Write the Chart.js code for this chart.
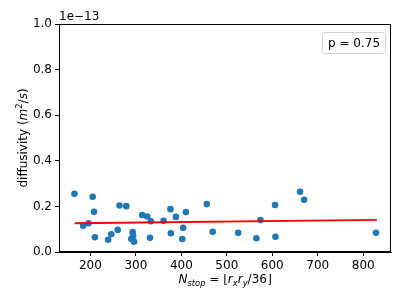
<!DOCTYPE html>
<html>
<head>
<meta charset="utf-8">
<script src="https://cdn.jsdelivr.net/npm/chart.js@4"></script>
<style>
  html, body { margin: 0; padding: 0; background: #fff; }
  #wrap { width: 407px; height: 304px; }
</style>
</head>
<body>
<div id="wrap"><canvas id="chart" width="407" height="304"></canvas></div>
<script>
// values, diffusivity in units of 1e-13 m^2/s
const nStop = [165, 184, 196, 205, 208, 210, 239, 246, 260, 264, 279, 290, 293, 294, 296, 314, 325, 333,
  331, 361, 376, 377, 388, 404, 402, 410, 456, 469, 525, 565, 574, 606, 607, 661, 670, 828];
const diffusivity = [0.255, 0.115, 0.126, 0.242, 0.176, 0.065, 0.054, 0.078, 0.097, 0.204, 0.201, 0.057,
  0.087, 0.070, 0.045, 0.162, 0.156, 0.135, 0.062, 0.137, 0.188, 0.082, 0.154, 0.106, 0.057, 0.175,
  0.210, 0.089, 0.084, 0.060, 0.140, 0.206, 0.067, 0.264, 0.229, 0.084];
const fitX = [165, 830];
const fitY = [0.126, 0.141];
const xTicks = [200, 300, 400, 500, 600, 700, 800];
const yTicks = [0, 0.2, 0.4, 0.6, 0.8, 1.0];
const pLabel = "p = 0.75";

const FONT = "'DejaVu Sans', sans-serif";

// draw a list of text runs; each run: [text, italic, shift(-1 sub, 0, 1 sup)]
function runWidth(ctx, runs, size) {
  let w = 0;
  runs.forEach(([t, it, sh]) => {
    const s = sh ? size * 0.7 : size;
    ctx.font = (it ? "italic " : "") + s + "px " + FONT;
    w += ctx.measureText(t).width;
  });
  return w;
}
function drawRuns(ctx, runs, x, y, size) {
  runs.forEach(([t, it, sh]) => {
    const s = sh ? size * 0.7 : size;
    ctx.font = (it ? "italic " : "") + s + "px " + FONT;
    const dy = sh === -1 ? size * 0.25 : sh === 1 ? -size * 0.4 : 0;
    ctx.fillText(t, x, y + dy);
    x += ctx.measureText(t).width;
  });
}

const decorations = {
  id: "decorations",
  afterDraw(chart) {
    const ctx = chart.ctx;
    const a = chart.chartArea;
    ctx.save();
    // frame
    ctx.strokeStyle = "#000";
    ctx.lineWidth = 1;
    ctx.strokeRect(Math.round(a.left) + 0.5, Math.round(a.top) + 0.5,
      Math.round(a.right - a.left) - 1, Math.round(a.bottom - a.top) - 1);

    // offset label
    ctx.fillStyle = "#000";
    ctx.textBaseline = "alphabetic";
    ctx.textAlign = "left";
    ctx.font = "12px " + FONT;
    ctx.fillText("1e\u221213", a.left, a.top - 4);

    // p box
    const bx = 322, by = 32, bw = 63, bh = 21;
    ctx.fillStyle = "rgba(255,255,255,0.8)";
    ctx.strokeStyle = "#d0d0d0";
    ctx.beginPath();
    ctx.roundRect(bx + 0.5, by + 0.5, bw, bh, 3);
    ctx.fill();
    ctx.stroke();
    ctx.fillStyle = "#000";
    ctx.textAlign = "center";
    ctx.textBaseline = "middle";
    ctx.font = "12px " + FONT;
    ctx.fillText(pLabel, bx + bw / 2 + 0.5, by + bh / 2 + 1);

    // x label
    ctx.textAlign = "left";
    ctx.textBaseline = "alphabetic";
    const xRuns = [["N", true, 0], ["stop", true, -1], [" = \u230A", false, 0], ["r", true, 0], ["x", true, -1],
      ["r", true, 0], ["y", true, -1], ["/36\u230B", false, 0]];
    const xw = runWidth(ctx, xRuns, 12);
    drawRuns(ctx, xRuns, (a.left + a.right) / 2 - xw / 2, 283, 12);

    // y label
    ctx.translate(27, (a.top + a.bottom) / 2);
    ctx.rotate(-Math.PI / 2);
    const yRuns = [["diffusivity (", false, 0], ["m", true, 0], ["2", false, 1], ["/", false, 0], ["s", true, 0], [")", false, 0]];
    const yw = runWidth(ctx, yRuns, 12);
    drawRuns(ctx, yRuns, -yw / 2, 0, 12);
    ctx.restore();
  }
};

new Chart(document.getElementById("chart"), {
  type: "scatter",
  data: {
    datasets: [
      {
        type: "line",
        data: fitX.map((x, i) => ({ x: x, y: fitY[i] })),
        borderColor: "#ff0000",
        borderWidth: 1.8,
        pointRadius: 0,
        fill: false
      },
      {
        data: nStop.map((x, i) => ({ x: x, y: diffusivity[i] })),
        backgroundColor: "#1f77b4",
        borderWidth: 0,
        pointRadius: 3.3
      }
    ]
  },
  options: {
    responsive: false,
    animation: false,
    events: [],
    layout: { padding: { top: 24, right: 16, left: 0, bottom: 0 } },
    plugins: { legend: { display: false }, tooltip: { enabled: false } },
    scales: {
      x: {
        type: "linear",
        min: 131,
        max: 861,
        afterFit(scale) { scale.height = 52; },
        afterBuildTicks(scale) { scale.ticks = xTicks.map(v => ({ value: v })); },
        grid: { drawOnChartArea: false, drawTicks: true, tickLength: 4, color: "#000" },
        border: { display: true, color: "#000", width: 1 },
        ticks: { color: "#000", padding: 3, maxRotation: 0, font: { family: FONT, size: 12 } }
      },
      y: {
        min: 0,
        max: 1,
        afterFit(scale) { scale.width = 59; },
        afterBuildTicks(scale) { scale.ticks = yTicks.map(v => ({ value: v })); },
        grid: { drawOnChartArea: false, drawTicks: true, tickLength: 4, color: "#000" },
        border: { display: true, color: "#000", width: 1 },
        ticks: {
          color: "#000", padding: 3, font: { family: FONT, size: 12 },
          callback: v => v.toFixed(1)
        }
      }
    }
  },
  plugins: [decorations]
});
</script>
</body>
</html>
